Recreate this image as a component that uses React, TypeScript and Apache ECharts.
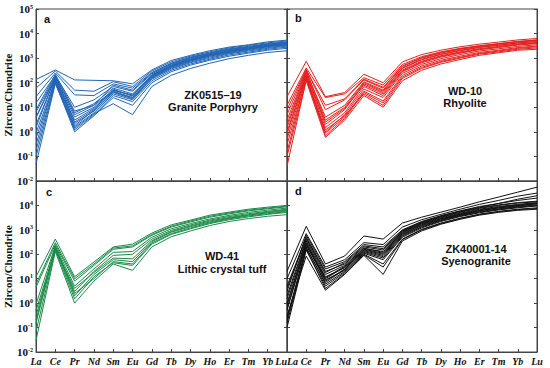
import React, { useEffect, useRef } from "react";
import * as echarts from "echarts";

const elements = ["La", "Ce", "Pr", "Nd", "Sm", "Eu", "Gd", "Tb", "Dy", "Ho", "Er", "Tm", "Yb", "Lu"];

// Panel a: ZK0515-19 Granite Porphyry (zircon/chondrite)
const samplesA: number[][] = [
  [135, 330, 130, 125, 120, 90, 330, 800, 1300, 2000, 2800, 3500, 4600, 5400],
  [60, 300, 50, 45, 110, 70, 300, 700, 1200, 1800, 2600, 3300, 4200, 5000],
  [27, 250, 32, 30, 90, 60, 260, 620, 1100, 1650, 2400, 3000, 3900, 4600],
  [15, 200, 10, 20, 70, 45, 230, 560, 1000, 1500, 2200, 2800, 3600, 4300],
  [6.5, 180, 6, 14, 60, 35, 200, 500, 900, 1400, 2000, 2600, 3300, 4000],
  [3.7, 160, 4, 10, 50, 30, 180, 460, 820, 1300, 1850, 2400, 3100, 3700],
  [2, 150, 3, 9, 45, 25, 160, 420, 760, 1200, 1700, 2250, 2900, 3500],
  [0.9, 130, 2.2, 7, 40, 22, 150, 390, 700, 1100, 1600, 2100, 2700, 3300],
  [0.55, 120, 1.6, 6, 35, 20, 140, 360, 650, 1000, 1500, 1950, 2500, 3100],
  [0.18, 110, 1.2, 5, 30, 17, 120, 320, 580, 900, 1350, 1750, 2300, 2800],
  [0.1, 100, 1.0, 4.5, 25, 12, 100, 280, 520, 820, 1200, 1600, 2100, 2500],
  [0.05, 90, 1.4, 5.5, 14, 5, 70, 200, 380, 620, 950, 1300, 1700, 2000],
  [8, 220, 7, 12, 80, 50, 250, 600, 1050, 1600, 2300, 2900, 3700, 4400],
  [1.5, 170, 2.5, 8, 55, 28, 190, 480, 850, 1350, 1900, 2450, 3200, 3800],
  [0.3, 140, 1.8, 7.5, 42, 24, 170, 440, 790, 1250, 1750, 2300, 3000, 3600],
  [4, 190, 5, 12, 48, 32, 210, 520, 930, 1420, 2050, 2650, 3400, 4100],
];

// Panel b: WD-10 Rhyolite
const samplesB: number[][] = [
  [27, 740, 27, 40, 220, 100, 700, 1400, 2100, 2900, 3700, 4500, 5500, 6300],
  [8, 350, 8, 20, 130, 60, 450, 1000, 1600, 2300, 3000, 3700, 4600, 5200],
  [3, 300, 3, 10, 100, 45, 380, 850, 1400, 2000, 2700, 3300, 4100, 4700],
  [1.5, 250, 2, 8, 90, 40, 330, 750, 1250, 1800, 2450, 3000, 3800, 4300],
  [0.8, 200, 1.5, 6, 70, 30, 280, 650, 1100, 1600, 2200, 2700, 3400, 3900],
  [0.5, 180, 1.0, 5, 55, 25, 240, 560, 950, 1400, 1950, 2400, 3000, 3500],
  [0.3, 150, 0.9, 4, 45, 18, 200, 480, 820, 1200, 1700, 2100, 2700, 3100],
  [0.04, 130, 1.2, 4.5, 35, 12, 150, 380, 680, 1000, 1450, 1800, 2300, 2600],
  [12, 400, 25, 35, 160, 80, 550, 1150, 1800, 2500, 3200, 3900, 4800, 5500],
  [0.15, 170, 0.7, 3.5, 40, 15, 170, 420, 730, 1080, 1550, 1950, 2500, 2900],
  [2, 280, 4, 12, 110, 50, 400, 900, 1450, 2100, 2800, 3400, 4200, 4800],
  [1, 220, 2.5, 9, 80, 35, 300, 700, 1180, 1700, 2300, 2850, 3600, 4100],
  [0.1, 120, 0.6, 3, 30, 10, 120, 320, 580, 880, 1300, 1650, 2100, 2300],
  [5, 330, 12, 22, 140, 65, 480, 1050, 1700, 2400, 3100, 3800, 4700, 5400],
];

// Panel c: WD-41 Lithic crystal tuff
const samplesC: number[][] = [
  [12, 420, 12, 48, 200, 260, 740, 1600, 2500, 4000, 5300, 7000, 8500, 10000],
  [4.5, 250, 8, 35, 160, 200, 600, 1300, 2100, 3300, 4500, 6000, 7300, 8800],
  [0.9, 220, 5, 25, 120, 130, 500, 1100, 1800, 2800, 3900, 5200, 6400, 7800],
  [0.3, 200, 3, 20, 90, 100, 420, 950, 1600, 2500, 3500, 4600, 5700, 7000],
  [0.15, 180, 2, 15, 60, 50, 330, 800, 1350, 2100, 3000, 4000, 5000, 6100],
  [0.07, 150, 1.5, 12, 45, 35, 260, 650, 1100, 1800, 2600, 3400, 4300, 5200],
  [0.03, 130, 1.0, 8, 40, 22, 200, 520, 900, 1500, 2200, 2900, 3600, 4200],
  [0.5, 160, 4, 18, 70, 65, 360, 850, 1450, 2300, 3200, 4200, 5300, 6500],
  [0.2, 190, 2.5, 10, 50, 40, 290, 700, 1200, 1950, 2800, 3700, 4600, 5600],
  [6, 300, 10, 40, 180, 220, 650, 1400, 2300, 3600, 4900, 6400, 7800, 9400],
];

// Panel d: ZK40001-14 Syenogranite
const samplesD: number[][] = [
  [20, 1400, 40, 85, 560, 420, 1900, 3300, 5300, 8500, 14000, 22000, 35000, 56000],
  [10, 700, 30, 60, 300, 250, 1300, 2600, 4300, 7000, 11000, 16000, 24000, 32000],
  [5, 500, 20, 40, 200, 150, 900, 2000, 3500, 5500, 8000, 10500, 13000, 15000],
  [2, 400, 15, 35, 180, 120, 800, 1800, 3100, 4800, 7000, 9000, 11000, 13000],
  [1, 300, 10, 30, 150, 100, 700, 1600, 2800, 4300, 6200, 8000, 10000, 12000],
  [0.5, 250, 8, 25, 130, 80, 600, 1400, 2500, 3900, 5600, 7200, 9000, 10500],
  [0.25, 200, 6, 20, 110, 60, 500, 1200, 2200, 3500, 5000, 6500, 8000, 9500],
  [0.1, 150, 5, 18, 100, 40, 420, 1050, 1900, 3000, 4400, 5700, 7000, 8000],
  [0.3, 85, 3.4, 15, 90, 15, 350, 900, 1700, 2700, 4000, 5200, 6300, 7000],
  [3, 600, 25, 50, 250, 200, 1000, 2200, 3800, 6000, 9000, 12000, 16000, 20000],
  [1.5, 350, 12, 28, 140, 90, 650, 1500, 2600, 4100, 6000, 7800, 9500, 11500],
  [0.8, 280, 9, 22, 120, 70, 550, 1300, 2350, 3700, 5300, 6900, 8500, 10000],
  [0.2, 180, 7, 24, 160, 110, 750, 1700, 2900, 4500, 6600, 8500, 10500, 12500],
  [0.6, 230, 11, 32, 170, 130, 850, 1900, 3300, 5200, 7600, 10000, 12500, 14000],
  [4, 450, 18, 45, 220, 170, 950, 2100, 3700, 5800, 8500, 12000, 18000, 25000],
  [0.15, 160, 4, 16, 95, 30, 400, 1000, 1800, 2900, 4200, 5500, 6700, 7500],
];

const panelColors = ["#2165b4", "#e3201f", "#1a8a47", "#111111"];
const panelLetters = ["a", "b", "c", "d"];
const panelTitles = [
  ["ZK0515\u201319", "Granite Porphyry"],
  ["WD-10", "Rhyolite"],
  ["WD-41", "Lithic crystal tuff"],
  ["ZK40001-14", "Syenogranite"],
];

const GRIDS = [
  { left: 36, top: 9, width: 251, height: 172 },
  { left: 287, top: 9, width: 250, height: 172 },
  { left: 36, top: 181, width: 251, height: 171 },
  { left: 287, top: 181, width: 250, height: 171 },
];
const TITLE_POS = [
  [213, 95, 107],
  [465, 91, 103],
  [222, 256, 269],
  [476, 249, 261],
];
const LETTER_POS = [
  [44, 13],
  [295, 12],
  [46, 186],
  [295, 185],
];

const serif = "'Liberation Serif', 'Times New Roman', serif";
const sans = "'Liberation Sans', Arial, sans-serif";

export default function App() {
  const ref = useRef<HTMLDivElement>(null);
  useEffect(() => {
    if (!ref.current) return;
    const chart = echarts.init(ref.current, null, { renderer: "svg" });
    const allSamples = [samplesA, samplesB, samplesC, samplesD];
    const axisColor = "#444";

    const xAxis: any[] = GRIDS.map((_, i) => ({
      type: "category",
      gridIndex: i,
      data: elements,
      boundaryGap: false,
      axisLine: { show: true, lineStyle: { color: axisColor } },
      axisTick: { show: true, inside: true, length: 3, alignWithLabel: true, lineStyle: { color: axisColor } },
      axisLabel: {
        show: i >= 2,
        interval: 0,
        margin: 4,
        hideOverlap: false,
        alignMaxLabel: i === 2 ? "right" : undefined,
        alignMinLabel: i === 3 ? "left" : undefined,
        fontFamily: serif,
        fontStyle: "italic",
        fontWeight: "bold",
        fontSize: 10,
        color: "#111",
      },
      splitLine: { show: false },
    }));

    const yAxis: any[] = [];
    GRIDS.forEach((_, i) => {
      const left = i % 2 === 0;
      yAxis.push({
        type: "log",
        logBase: 10,
        gridIndex: i,
        min: 0.01,
        max: 100000,
        position: "left",
        name: left ? "Zircon/Chondrite" : "",
        nameLocation: "middle",
        nameGap: 22,
        nameTextStyle: { fontFamily: serif, fontWeight: "bold", fontSize: 11, color: "#111" },
        axisLine: { show: true, lineStyle: { color: axisColor } },
        axisTick: { show: true, inside: true, length: 3, lineStyle: { color: axisColor } },
        minorTick: { show: false },
        splitLine: { show: false },
        axisLabel: {
          show: left,
          margin: 3,
          showMaxLabel: i === 0,
          formatter: (v: number) => {
            const e = Math.round(Math.log10(v));
            return `{b|10}{s|${e < 0 ? "-" + Math.abs(e) : e}}`;
          },
          rich: {
            b: { fontFamily: serif, fontWeight: "bold", fontSize: 11, color: "#111" },
            s: { fontFamily: serif, fontWeight: "bold", fontSize: 6, color: "#111", verticalAlign: "top", lineHeight: 6 },
          },
        },
      });
    });
    GRIDS.forEach((_, i) => {
      yAxis.push({
        type: "log",
        logBase: 10,
        gridIndex: i,
        min: 0.01,
        max: 100000,
        position: "right",
        axisLine: { show: true, lineStyle: { color: axisColor } },
        axisTick: { show: true, inside: true, length: 3, lineStyle: { color: axisColor } },
        axisLabel: { show: false },
        splitLine: { show: false },
      });
    });

    const series: any[] = [];
    allSamples.forEach((samples, i) => {
      samples.forEach((s, k) => {
        series.push({
          type: "line",
          name: `${panelLetters[i]}${k + 1}`,
          xAxisIndex: i,
          yAxisIndex: i,
          data: s,
          symbol: "none",
          silent: true,
          lineStyle: { color: panelColors[i], width: 1 },
        });
      });
    });

    const graphic: any[] = [];
    panelLetters.forEach((l, i) => {
      graphic.push({
        type: "text",
        x: LETTER_POS[i][0],
        y: LETTER_POS[i][1],
        style: { text: l, font: `bold 11px ${sans}`, fill: "#111" },
      });
      graphic.push({
        type: "text",
        x: TITLE_POS[i][0],
        y: TITLE_POS[i][1],
        style: { text: panelTitles[i][0], font: `bold 11px ${sans}`, fill: "#111", align: "center", verticalAlign: "middle" },
      });
      graphic.push({
        type: "text",
        x: TITLE_POS[i][0],
        y: TITLE_POS[i][2],
        style: { text: panelTitles[i][1], font: `bold 11px ${sans}`, fill: "#111", align: "center", verticalAlign: "middle" },
      });
    });

    chart.setOption({
      animation: false,
      backgroundColor: "#fff",
      grid: GRIDS.map((g) => ({ ...g, show: true, borderColor: axisColor, borderWidth: 1, backgroundColor: "transparent" })),
      xAxis,
      yAxis,
      series,
      graphic,
    });
    return () => chart.dispose();
  }, []);
  return <div ref={ref} style={{ width: 550, height: 368, position: "absolute", left: 0, top: 0 }} />;
}
